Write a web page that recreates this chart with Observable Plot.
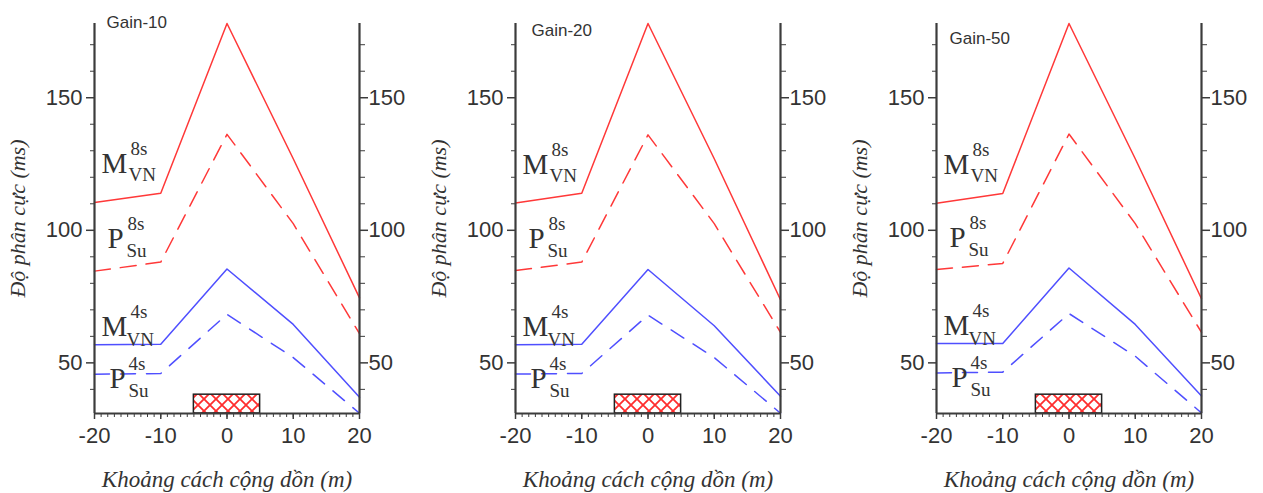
<!DOCTYPE html>
<html><head><meta charset="utf-8">
<script src="https://cdn.jsdelivr.net/npm/d3@7"></script>
<script src="https://cdn.jsdelivr.net/npm/@observablehq/plot@0.6"></script>
<style>
body{margin:0;background:#fff;}
#row{display:flex;width:1263px;height:493px;overflow:hidden;}
#row svg{display:block;}
</style></head><body><div id="row"></div>
<script>
// ---- data ----
const gainLabels = ["Gain-10", "Gain-20", "Gain-50"];
const distances = [-20, -10, 0, 10, 20];
const mVN8s = [[110.5, 114, 178, 127, 74.5], [110.3, 114, 178, 127, 73.8], [110.2, 113.9, 178, 127, 74.2]];
const pSu8s = [[84.6, 88, 136.2, 102.5, 61], [84.8, 88, 136, 102.5, 61.5], [85.2, 87.5, 136.3, 102.5, 61.5]];
const mVN4s = [[56.8, 57, 85.4, 64.5, 37], [56.8, 57, 85.2, 64, 37.4], [57.3, 57.3, 85.8, 64.5, 37.5]];
const pSu4s = [[45.7, 46, 68.3, 52, 31], [45.8, 46, 68, 52, 31], [46.2, 46.5, 68.6, 52.5, 31.1]];
const seriesBase = ["M", "P", "M", "P"];
const seriesSup = ["8s", "8s", "4s", "4s"];
const seriesSub = ["VN", "Su", "VN", "Su"];
const majorYTicks = [50, 100, 150];
const minorYTicks = [40, 60, 70, 80, 90, 110, 120, 130, 140, 160, 170];
const majorXTicks = [-20, -10, 0, 10, 20];
const minorXTicks = d3.range(-20, 21, 1);
const hatchZone = [{x1: -5, x2: 5, top: 38}];
const yTitle = "Độ phân cực (ms)";
const xTitle = "Khoảng cách cộng dồn (m)";

// ---- styles ----
const RED = "#ff3838", BLUE = "#4f4fff", AXIS = "#3c3c3c", TXT = "#333";
const yDomain = [30.9, 178];
const SERIF = "'Liberation Serif','Times New Roman',serif";
const SANS = "'Liberation Sans',Arial,sans-serif";
const lineStyles = [
  {color: RED, dash: null},
  {color: RED, dash: "16,10"},
  {color: BLUE, dash: null},
  {color: BLUE, dash: "15,11"}
];
// label offsets (px) relative to series' first point
const labelOffsets = [
  {b: [7, -29], sp: [36, -47], sb: [34, -21]},
  {b: [13, -23], sp: [33, -41], sb: [32, -14]},
  {b: [7, -9], sp: [36, -27], sb: [32, 1]},
  {b: [15, 14], sp: [34, -4], sb: [34, 23]}
];
const gainOffsets = [[12, 4], [16, 12], [13, 20]];

function panel(i) {
  const pid = "hatch" + i;
  const allSeries = [mVN8s[i], pSu8s[i], mVN4s[i], pSu4s[i]];
  const marks = [];
  marks.push(Plot.rect(hatchZone, {x1: "x1", x2: "x2", y1: () => yDomain[0], y2: "top",
    fill: `url(#${pid})`, stroke: "#222", strokeWidth: 1.5}));
  allSeries.forEach((vals, k) => {
    const pts = distances.map((x, j) => ({x, y: vals[j]}));
    marks.push(Plot.line(pts, {x: "x", y: "y", stroke: lineStyles[k].color, strokeWidth: 1.5,
      strokeDasharray: lineStyles[k].dash}));
    const first = [{x: distances[0], y: vals[0]}];
    const o = labelOffsets[k];
    const common = {x: "x", y: "y", textAnchor: "start", lineAnchor: "bottom", fontFamily: SERIF, fill: TXT};
    marks.push(Plot.text(first, {...common, text: () => seriesBase[k], fontSize: 29, dx: o.b[0], dy: o.b[1]}));
    marks.push(Plot.text(first, {...common, text: () => seriesSup[k], fontSize: 19, dx: o.sp[0], dy: o.sp[1]}));
    marks.push(Plot.text(first, {...common, text: () => seriesSub[k], fontSize: 19, dx: o.sb[0], dy: o.sb[1]}));
  });
  // axes
  const fmt = d => String(d);
  marks.push(Plot.axisY({ticks: minorYTicks, tickSize: 4, tickFormat: () => "", label: null, stroke: AXIS}));
  marks.push(Plot.axisY({ticks: majorYTicks, tickSize: 8, tickPadding: 4, tickFormat: fmt, label: null,
    fontSize: 22, stroke: AXIS, strokeWidth: 1.5}));
  marks.push(Plot.axisY({anchor: "right", ticks: minorYTicks, tickSize: 5, tickFormat: () => "", label: null, stroke: AXIS}));
  marks.push(Plot.axisY({anchor: "right", ticks: majorYTicks, tickSize: 8, tickPadding: 1, tickFormat: fmt, label: null,
    fontSize: 22, stroke: AXIS, strokeWidth: 1.5}));
  marks.push(Plot.axisX({ticks: minorXTicks, tickSize: 4, tickFormat: () => "", label: null, stroke: AXIS}));
  marks.push(Plot.axisX({ticks: majorXTicks, tickSize: 6, tickPadding: 8, tickFormat: fmt, label: null,
    fontSize: 22, stroke: AXIS, strokeWidth: 1.5}));
  marks.push(Plot.ruleX([distances[0], distances[distances.length - 1]], {stroke: AXIS, strokeWidth: 2.2}));
  marks.push(Plot.ruleY([yDomain[0]], {stroke: AXIS, strokeWidth: 2.2}));
  // titles
  marks.push(Plot.text([gainLabels[i]], {frameAnchor: "top-left", textAnchor: "start", lineAnchor: "bottom",
    dx: gainOffsets[i][0], dy: gainOffsets[i][1], fontSize: 17, fontFamily: SANS, fill: TXT}));
  marks.push(Plot.text([yTitle], {frameAnchor: "left", textAnchor: "middle", rotate: -90, dx: -77, fontSize: 22,
    fontFamily: SERIF, fontStyle: "italic", fill: TXT}));
  marks.push(Plot.text([xTitle], {frameAnchor: "bottom", lineAnchor: "bottom", dy: 73, fontSize: 23,
    fontFamily: SERIF, fontStyle: "italic", fill: TXT}));

  const svg = Plot.plot({
    width: 421, height: 493,
    marginLeft: 94, marginRight: 62, marginTop: 23, marginBottom: 80,
    x: {domain: [-20, 20]},
    y: {domain: yDomain},
    style: {fontFamily: SANS, color: TXT, background: "#fff", overflow: "visible"},
    marks
  });
  const defs = d3.select(svg).insert("defs", ":first-child");
  const p = defs.append("pattern").attr("id", pid).attr("patternUnits", "userSpaceOnUse")
    .attr("width", 12).attr("height", 12).attr("x", 0).attr("y", 3);
  p.append("rect").attr("width", 12).attr("height", 12).attr("fill", "#fff");
  p.append("path").attr("d", "M-1,-1L13,13M13,-1L-1,13").attr("stroke", "#ff2d2d").attr("stroke-width", 1.8);
  return svg;
}
const row = document.getElementById("row");
for (let i = 0; i < 3; i++) row.appendChild(panel(i));
</script></body></html>
